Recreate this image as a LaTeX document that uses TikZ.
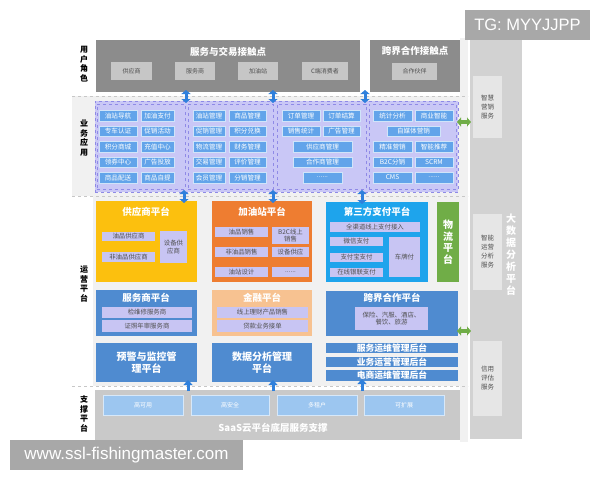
\documentclass[tikz,border=0pt]{standalone}
\usepackage{fontspec}
\setmainfont{Noto Sans CJK SC}
\newfontfamily\wmfont{Liberation Sans}
\usetikzlibrary{arrows.meta,calc}
\definecolor{bgc}{HTML}{F1F1F1}
\definecolor{dgray}{HTML}{8C8C8C}
\definecolor{lgbtn}{HTML}{C6C6C6}
\definecolor{rgray}{HTML}{D2D2D2}
\definecolor{rinner}{HTML}{E6E6E6}
\definecolor{lav}{HTML}{C9C7F6}
\definecolor{lavb}{HTML}{8F8AE6}
\definecolor{appbtn}{HTML}{62A4EA}
\definecolor{ylw}{HTML}{FCC00E}
\definecolor{org}{HTML}{EE7D31}
\definecolor{cyn}{HTML}{1EA4EC}
\definecolor{grn}{HTML}{70AD47}
\definecolor{blu}{HTML}{4F8BD0}
\definecolor{lorg}{HTML}{F7C291}
\definecolor{inlav}{HTML}{C8C5F3}
\definecolor{supg}{HTML}{C9C9C9}
\definecolor{supb}{HTML}{9CC6F0}
\definecolor{arrb}{HTML}{2F80DC}
\definecolor{wmg}{HTML}{A8A8A8}
\definecolor{txtg}{HTML}{505050}
\newcommand\mybox[7]{\node[#6, minimum width={#4-#2}, minimum height={#5-#3}] (#1) at ({(#2+#4)/2},{(#3+#5)/2}) {#7};}
\tikzset{
  base/.style={inner sep=0pt, outer sep=0pt, align=center},
  graybox/.style={base, fill=dgray},
  grbtn/.style={base, fill=lgbtn, text=txtg, font=\fontsize{6}{7}\selectfont},
  colbox/.style={base, fill=rgray},
  rinbox/.style={base, fill=rinner, text=txtg, font=\fontsize{6.5}{9}\selectfont},
  appbox/.style={base, fill=lav, draw=lavb, dashed, line width=0.6pt},
  appcol/.style={base, fill=lav, draw=lavb, dashed, line width=0.5pt},
  abtn/.style={base, fill=appbtn, draw=white!70!appbtn, line width=0.4pt, text=white, font=\fontsize{6.6}{7.5}\selectfont},
  plat/.style={base, draw=none},
  ibox/.style={base, fill=inlav, text=txtg, font=\fontsize{6.4}{7.6}\selectfont},
  ttl/.style={base, text=white, font=\fontsize{9.5}{11}\selectfont\bfseries},
  bigt/.style={base, text=white, font=\fontsize{10}{12}\selectfont\bfseries},
  bar/.style={base, fill=blu, text=white, font=\fontsize{8.8}{10}\selectfont\bfseries},
  sbtn/.style={base, fill=supb, draw=white!60!supb, line width=0.5pt, text=white, font=\fontsize{6}{7}\selectfont},
  lbl/.style={base, text=black, font=\fontsize{8}{9.6}\selectfont\bfseries},
  sep/.style={draw=black!22, dashed, line width=0.5pt},
  barr/.style={draw=arrb, line width=3pt, {Triangle[width=9pt,length=4pt]}-{Triangle[width=9pt,length=4pt]}, shorten <=-2pt, shorten >=-2pt},
  uarr/.style={draw=arrb, line width=3pt, -{Triangle[width=9pt,length=5pt]}, shorten <=-1pt, shorten >=-2pt},
  garr/.style={draw=grn, line width=3.2pt, {Triangle[width=9pt,length=4pt]}-{Triangle[width=9pt,length=4pt]}, shorten <=-1pt, shorten >=-1pt},
  wm/.style={base, fill=wmg, text=white}
}
\begin{document}
\begin{tikzpicture}[x=1pt,y=-1pt]
\useasboundingbox (0,0) rectangle (600,480);
\fill[white] (0,0) rectangle (600,480);
% band backgrounds
\fill[bgc] (72,96) rectangle (468,196);
\fill[bgc] (93,196) rectangle (468,386);
\fill[bgc] (460,38) rectangle (468,442);
% separators
\draw[sep] (72,96) -- (468,96);
\draw[sep] (72,196) -- (468,196);
\draw[sep] (72,386) -- (468,386);

% left labels
\node[lbl] (l1) at (84,64) {用\\户\\角\\色};
\node[lbl] (l2) at (84,138) {业\\务\\应\\用};
\node[lbl] (l3) at (84,284) {运\\营\\平\\台};
\node[lbl] (l4) at (84,414) {支\\撑\\平\\台};

% top section
\mybox{ut}{96}{40}{360}{92}{graybox}{}
\node[ttl] (utt) at (228,52) {服务与交易接触点};
\mybox{u1}{111}{62}{152}{80}{grbtn}{供应商}
\mybox{u2}{175}{62}{215}{80}{grbtn}{服务商}
\mybox{u3}{238}{62}{278}{80}{grbtn}{加油站}
\mybox{u4}{302}{62}{348}{80}{grbtn}{C端消费者}
\mybox{kt}{370}{40}{460}{92}{graybox}{}
\node[ttl] (ktt) at (415,51) {跨界合作接触点};
\mybox{u5}{392}{63}{437}{80}{grbtn}{合作伙伴}

% right column
\mybox{rc}{470}{40}{522}{439}{colbox}{}
\mybox{r1}{473}{76}{502}{138}{rinbox}{智慧\\营销\\服务}
\mybox{r2}{473}{214}{502}{290}{rinbox}{智能\\运营\\分析\\服务}
\mybox{r3}{473}{341}{502}{416}{rinbox}{信用\\评估\\服务}
\node[bigt] (rct) at (511,255) {大\\数\\据\\分\\析\\平\\台};

% application layer
\mybox{app}{95}{101}{458}{192}{appbox}{}
\mybox{c1}{97}{104}{185}{189}{appcol}{}
\mybox{c2}{188}{104}{273}{189}{appcol}{}
\mybox{c3}{277}{104}{366}{189}{appcol}{}
\mybox{c4}{369}{104}{456}{189}{appcol}{}
% col1
\mybox{a11}{99}{110}{137}{121}{abtn}{油站导航}
\mybox{a12}{141}{110}{174}{121}{abtn}{加油支付}
\mybox{a21}{99}{126}{137}{136}{abtn}{专车认证}
\mybox{a22}{141}{126}{174}{136}{abtn}{促销活动}
\mybox{a31}{99}{141}{137}{152}{abtn}{积分商城}
\mybox{a32}{141}{141}{174}{152}{abtn}{充值中心}
\mybox{a41}{99}{157}{137}{167}{abtn}{领券中心}
\mybox{a42}{141}{157}{174}{167}{abtn}{广告投放}
\mybox{a51}{99}{172}{137}{183}{abtn}{商品配送}
\mybox{a52}{141}{172}{174}{183}{abtn}{商品自提}
% col2
\mybox{b11}{193}{110}{225}{121}{abtn}{油站管理}
\mybox{b12}{229}{110}{266}{121}{abtn}{商品管理}
\mybox{b21}{193}{126}{225}{136}{abtn}{促销管理}
\mybox{b22}{229}{126}{266}{136}{abtn}{积分兑换}
\mybox{b31}{193}{141}{225}{152}{abtn}{物流管理}
\mybox{b32}{229}{141}{266}{152}{abtn}{财务管理}
\mybox{b41}{193}{157}{225}{167}{abtn}{交易管理}
\mybox{b42}{229}{157}{266}{167}{abtn}{评价管理}
\mybox{b51}{193}{172}{225}{183}{abtn}{会员管理}
\mybox{b52}{229}{172}{266}{183}{abtn}{分销管理}
% col3
\mybox{d11}{282}{110}{320}{121}{abtn}{订单管理}
\mybox{d12}{323}{110}{360}{121}{abtn}{订单结算}
\mybox{d21}{282}{126}{320}{136}{abtn}{销售统计}
\mybox{d22}{323}{126}{360}{136}{abtn}{广告管理}
\mybox{d3}{293}{141}{352}{152}{abtn}{供应商管理}
\mybox{d4}{293}{157}{352}{167}{abtn}{合作商管理}
\mybox{d5}{303}{172}{342}{183}{abtn}{......}
% col4
\mybox{e11}{373}{110}{412}{121}{abtn}{统计分析}
\mybox{e12}{415}{110}{453}{121}{abtn}{商业智能}
\mybox{e2}{387}{126}{440}{136}{abtn}{自媒体营销}
\mybox{e31}{373}{141}{412}{152}{abtn}{精准营销}
\mybox{e32}{415}{141}{453}{152}{abtn}{智能推荐}
\mybox{e41}{373}{157}{412}{167}{abtn}{B2C分销}
\mybox{e42}{415}{157}{453}{167}{abtn}{SCRM}
\mybox{e51}{373}{172}{412}{183}{abtn}{CMS}
\mybox{e52}{415}{172}{453}{183}{abtn}{......}

% operation platforms
\mybox{sp}{96}{201}{197}{282}{plat, fill=ylw}{}
\node[ttl] (spt) at (146,212) {供应商平台};
\mybox{s1}{102}{232}{155}{241}{ibox}{油品供应商}
\mybox{s2}{102}{252}{155}{262}{ibox}{非油品供应商}
\mybox{s3}{160}{231}{187}{263}{ibox}{设备供\\应商}

\mybox{gp}{212}{201}{312}{282}{plat, fill=org}{}
\node[ttl] (gpt) at (262,212) {加油站平台};
\mybox{g1}{215}{227}{268}{237}{ibox}{油品销售}
\mybox{g2}{272}{227}{309}{244}{ibox}{B2C线上\\销售}
\mybox{g3}{215}{247}{268}{257}{ibox}{非油品销售}
\mybox{g4}{272}{247}{309}{257}{ibox}{设备供应}
\mybox{g5}{215}{267}{268}{277}{ibox}{油站设计}
\mybox{g6}{272}{267}{309}{277}{ibox}{......}

\mybox{tp}{326}{202}{428}{282}{plat, fill=cyn}{}
\node[ttl] (tpt) at (377,212) {第三方支付平台};
\mybox{t1}{330}{222}{420}{232}{ibox}{全渠道线上支付接入}
\mybox{t2}{330}{237}{383}{246}{ibox}{微信支付}
\mybox{t3}{330}{253}{383}{262}{ibox}{支付宝支付}
\mybox{t4}{330}{268}{383}{277}{ibox}{在线银联支付}
\mybox{t5}{389}{237}{420}{277}{ibox}{车牌付}

\mybox{wl}{437}{202}{459}{282}{plat, fill=grn, text=white, font=\fontsize{10}{11.5}\selectfont\bfseries}{物\\流\\平\\台}

\mybox{fp}{96}{290}{197}{336}{plat, fill=blu}{}
\node[ttl] (fpt) at (146,298) {服务商平台};
\mybox{f1}{102}{307}{192}{318}{ibox}{检维修服务商}
\mybox{f2}{102}{320}{192}{332}{ibox}{证照年审服务商}

\mybox{jr}{212}{290}{312}{336}{plat, fill=lorg}{}
\node[ttl] (jrt) at (262,298) {金融平台};
\mybox{j1}{217}{307}{308}{318}{ibox}{线上理财产品销售}
\mybox{j2}{217}{320}{308}{332}{ibox}{贷款业务接单}

\mybox{kp}{326}{291}{458}{336}{plat, fill=blu}{}
\node[ttl] (kpt) at (392,298) {跨界合作平台};
\mybox{k1}{355}{307}{428}{330}{ibox}{保险、汽服、酒店、\\餐饮、旅游}

\mybox{yj}{96}{343}{197}{382}{plat, fill=blu, text=white, font=\fontsize{10}{12.5}\selectfont\bfseries}{预警与监控管\\理平台}
\mybox{sj}{212}{343}{312}{382}{plat, fill=blu, text=white, font=\fontsize{10}{12.5}\selectfont\bfseries}{数据分析管理\\平台}
\mybox{bb1}{326}{343}{458}{353}{bar}{服务运维管理后台}
\mybox{bb2}{326}{357}{458}{367}{bar}{业务运营管理后台}
\mybox{bb3}{326}{370}{458}{381}{bar}{电商运维管理后台}

% support layer
\mybox{sup}{95}{390}{460}{440}{plat, fill=supg}{}
\mybox{h1}{103}{395}{183}{415}{sbtn}{高可用}
\mybox{h2}{191}{395}{269}{415}{sbtn}{高安全}
\mybox{h3}{277}{395}{357}{415}{sbtn}{多租户}
\mybox{h4}{364}{395}{444}{415}{sbtn}{可扩展}
\node[base, text=white, font=\fontsize{9.5}{11}\selectfont\bfseries] (supt) at (273,428) {SaaS云平台底层服务支撑};

% arrows
\coordinate (x1) at (186,0);
\coordinate (x2) at (273,0);
\coordinate (x3) at (365,0);
\coordinate (m1) at (184,0);
\coordinate (m3) at (362,0);
\coordinate (y1) at (188,0);
\coordinate (gy1) at (0,122);
\coordinate (gy2) at (0,331);
\draw[barr] (ut.south -| x1) -- (app.north -| x1);
\draw[barr] (ut.south -| x2) -- (app.north -| x2);
\draw[barr] (ut.south -| x3) -- (app.north -| x3);
\draw[barr] (app.south -| m1) -- (sp.north -| m1);
\draw[barr] (app.south -| x2) -- (gp.north -| x2);
\draw[barr] (app.south -| m3) -- (tp.north -| m3);
\draw[uarr] (sup.north -| y1) -- (yj.south -| y1);
\draw[uarr] (sup.north -| x2) -- (sj.south -| x2);
\draw[uarr] (sup.north -| m3) -- (bb3.south -| m3);
\draw[garr] (app.east |- gy1) -- (rc.west |- gy1);
\draw[garr] (kp.east |- gy2) -- (rc.west |- gy2);

% watermarks
\mybox{wm1}{10}{440}{243}{470}{wm, font=\wmfont\fontsize{17}{19}\selectfont}{www.ssl-fishingmaster.com}
\mybox{wm2}{465}{10}{590}{40}{wm, font=\wmfont\fontsize{16.5}{18}\selectfont}{TG: MYYJJPP}
\end{tikzpicture}
\end{document}
